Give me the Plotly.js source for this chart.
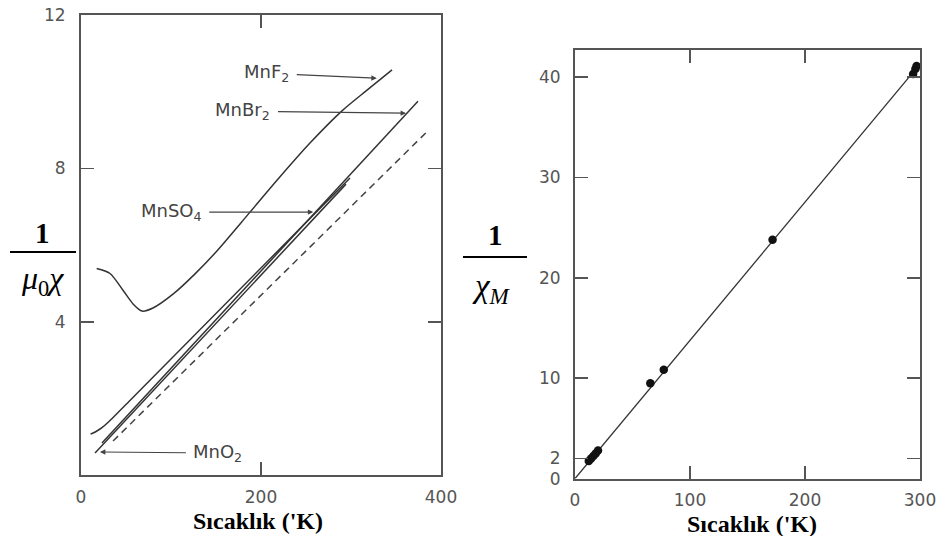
<!DOCTYPE html>
<html><head><meta charset="utf-8">
<script src="https://cdn.plot.ly/plotly-3.0.1.min.js"></script>
<style>html,body{margin:0;padding:0;background:#fff}#chart{width:937px;height:536px}</style>
</head><body><div id="chart"></div>
<script>
// ---- Left panel: 1/(mu0 chi) vs T ----
const mnf2T = [17.4, 32.2, 47.0, 58.1, 67.8, 80.0, 102.2, 126.7, 150.0, 187.8, 221.1, 254.4, 290.0, 317.8, 345.6];
const mnf2Y = [5.39, 5.26, 4.81, 4.46, 4.28, 4.36, 4.72, 5.25, 5.82, 6.86, 7.78, 8.66, 9.50, 10.04, 10.57];
const mnso4T = [10.6, 16.7, 23.3, 31.1, 54.4, 298.9];
const mnso4Y = [1.07, 1.14, 1.24, 1.40, 1.95, 7.75];
const mno2T = [15.6, 294.4];
const mno2Y = [0.58, 7.59];
const mnbr2T = [23.3, 374.4];
const mnbr2Y = [0.84, 9.75];
const curieT = [35.6, 383.3];
const curieY = [0.89, 8.93];
const leftXTicks = [0, 200, 400];
const leftYTicks = [4, 8, 12];

// ---- Right panel: 1/chi_M vs T ----
const ptsT = [12, 14, 16, 18, 20, 65.5, 77.2, 171.8, 294, 296, 297];
const ptsY = [1.75, 2.0, 2.25, 2.5, 2.8, 9.5, 10.85, 23.8, 40.3, 40.8, 41.1];
const fitT = [0, 297];
const fitY = [0, 40.9];
const rightXTicks = [0, 100, 200, 300];
const rightYTicks = [0, 2, 10, 20, 30, 40];

const W = 937, H = 536;
const px = v => v / W, py = v => 1 - v / H;
const lineCol = '#333';

const traces = [
  {x: mnf2T, y: mnf2Y, mode: 'lines', line: {color: lineCol, width: 1.5, shape: 'spline', smoothing: 0.8}, xaxis: 'x', yaxis: 'y'},
  {x: mnso4T, y: mnso4Y, mode: 'lines', line: {color: lineCol, width: 1.5, shape: 'spline', smoothing: 0.6}, xaxis: 'x', yaxis: 'y'},
  {x: mno2T, y: mno2Y, mode: 'lines', line: {color: lineCol, width: 1.5}, xaxis: 'x', yaxis: 'y'},
  {x: mnbr2T, y: mnbr2Y, mode: 'lines', line: {color: lineCol, width: 1.5}, xaxis: 'x', yaxis: 'y'},
  {x: curieT, y: curieY, mode: 'lines', line: {color: '#444', width: 1.5, dash: '7px,5px'}, xaxis: 'x', yaxis: 'y'},
  {x: fitT, y: fitY, mode: 'lines', line: {color: lineCol, width: 1.3}, xaxis: 'x2', yaxis: 'y2'},
  {x: ptsT, y: ptsY, mode: 'markers', marker: {color: '#111', size: 8.5}, xaxis: 'x2', yaxis: 'y2'}
];

const tickFont = {family: 'DejaVu Sans', size: 17, color: '#555'};
const axBase = {
  showline: true, linecolor: '#555', linewidth: 2, mirror: 'ticks',
  ticks: 'inside', ticklen: 13, tickwidth: 1.5, tickcolor: '#555',
  showgrid: false, zeroline: false, tickfont: tickFont, fixedrange: true
};

const annFont = {family: 'DejaVu Sans', size: 18, color: '#444'};
const arrowBase = {xref: 'x', yref: 'y', showarrow: true, arrowhead: 2, arrowsize: 0.9,
  arrowwidth: 1.2, arrowcolor: '#444', startstandoff: 6, standoff: 0, font: annFont};

const serif = 'Liberation Serif, Times New Roman, serif';
const layout = {
  width: W, height: H, margin: {l: 0, r: 0, t: 0, b: 0},
  paper_bgcolor: '#fff', plot_bgcolor: '#fff', showlegend: false,
  xaxis: Object.assign({}, axBase, {domain: [px(81), px(441)], range: [0, 400], tickvals: leftXTicks, anchor: 'y', ticklabelstandoff: 5}),
  yaxis: Object.assign({}, axBase, {domain: [py(475.2), py(15)], range: [0, 12], tickvals: leftYTicks, anchor: 'x', ticklabelstandoff: 10}),
  xaxis2: Object.assign({}, axBase, {domain: [px(575), px(920)], range: [0, 300], tickvals: rightXTicks, anchor: 'y2', ticklabelstandoff: 5}),
  yaxis2: Object.assign({}, axBase, {domain: [py(478.6), py(49.6)], range: [0, 42.74], tickvals: rightYTicks, anchor: 'x2', ticklabelstandoff: 9}),
  shapes: [
    {type: 'line', xref: 'paper', yref: 'paper', x0: px(10), x1: px(76), y0: py(252), y1: py(252), line: {color: '#000', width: 2}},
    {type: 'line', xref: 'paper', yref: 'paper', x0: px(463), x1: px(527), y0: py(257), y1: py(257), line: {color: '#000', width: 2}}
  ],
  annotations: [
    Object.assign({}, arrowBase, {text: 'MnF<sub>2</sub>', x: 328.6, y: 10.35, ax: -110, ay: -5}),
    Object.assign({}, arrowBase, {text: 'MnBr<sub>2</sub>', x: 361.1, y: 9.44, ax: -163, ay: -2}),
    Object.assign({}, arrowBase, {text: 'MnSO<sub>4</sub>', x: 258.1, y: 6.86, ax: -142, ay: 0}),
    Object.assign({}, arrowBase, {text: 'MnO<sub>2</sub>', x: 21.1, y: 0.605, ax: 118, ay: 1}),
    {xref: 'paper', yref: 'paper', x: px(42), y: py(233), text: '<b>1</b>', showarrow: false, xanchor: 'center', yanchor: 'middle', font: {family: serif, size: 29, color: '#000'}},
    {xref: 'paper', yref: 'paper', x: px(42), y: py(280), text: '<i>μ</i><sub>0</sub><i>χ</i>', showarrow: false, xanchor: 'center', yanchor: 'middle', font: {family: serif, size: 32, color: '#000'}},
    {xref: 'paper', yref: 'paper', x: px(495), y: py(235), text: '<b>1</b>', showarrow: false, xanchor: 'center', yanchor: 'middle', font: {family: serif, size: 29, color: '#000'}},
    {xref: 'paper', yref: 'paper', x: px(491), y: py(288), text: '<i>χ</i><sub><i>M</i></sub>', showarrow: false, xanchor: 'center', yanchor: 'middle', font: {family: serif, size: 33, color: '#000'}},
    {xref: 'paper', yref: 'paper', x: px(258), y: py(521), text: '<b>Sıcaklık (\'K)</b>', showarrow: false, xanchor: 'center', yanchor: 'middle', font: {family: serif, size: 24, color: '#000'}},
    {xref: 'paper', yref: 'paper', x: px(752), y: py(524), text: '<b>Sıcaklık (\'K)</b>', showarrow: false, xanchor: 'center', yanchor: 'middle', font: {family: serif, size: 24, color: '#000'}}
  ]
};

Plotly.newPlot('chart', traces, layout, {staticPlot: true, displayModeBar: false});
</script>
</body></html>
